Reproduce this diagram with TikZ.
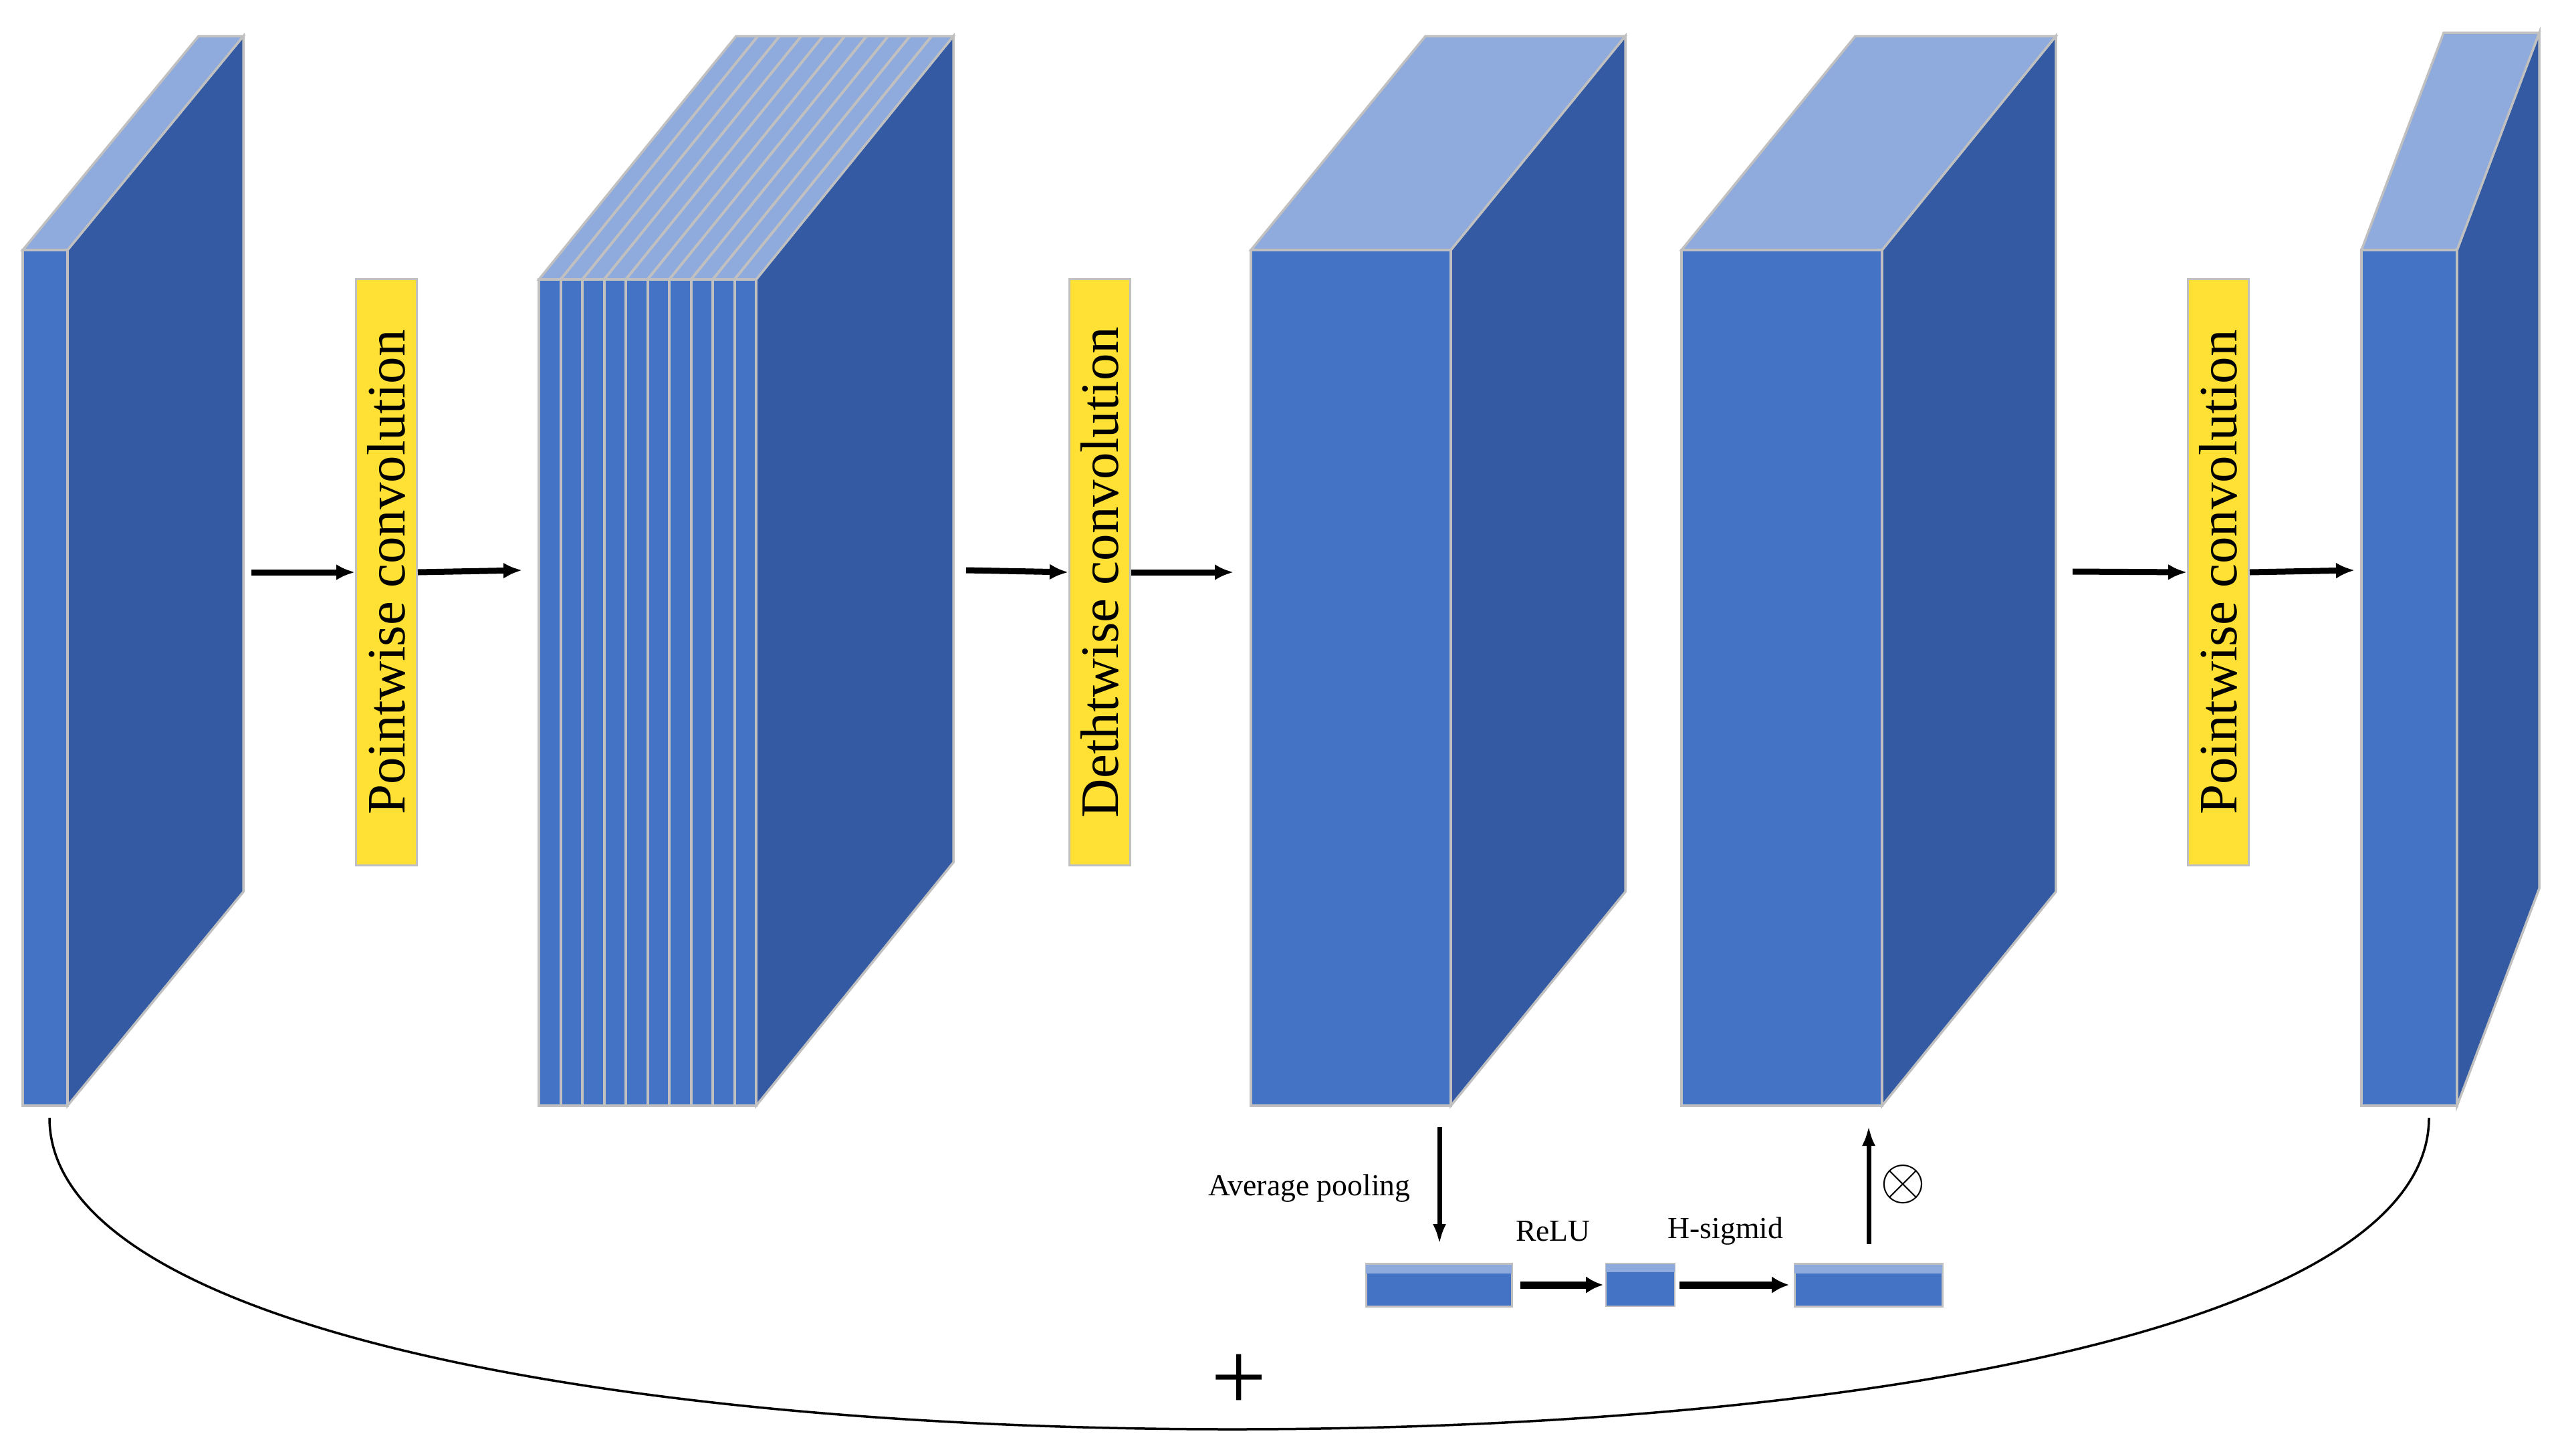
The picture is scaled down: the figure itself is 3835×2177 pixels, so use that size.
\documentclass[tikz,border=0pt]{standalone}
\usepackage{fontspec}
\setmainfont{Liberation Serif}
\usetikzlibrary{arrows.meta}
\definecolor{fr}{HTML}{4472C4}
\definecolor{sd}{HTML}{335AA3}
\definecolor{tp}{HTML}{8FAADC}
\definecolor{ed}{HTML}{C0C0C0}
\definecolor{yl}{HTML}{FFE135}
\newcommand\mycuboid[6]{%
 \fill[sd,draw=ed,line width=0.35mm] (#2,#3) -- ({#2+#5},{#3+#6}) -- ({#2+#5},{#4+#6}) -- (#2,#4) -- cycle;
 \fill[tp,draw=ed,line width=0.35mm] (#1,#3) -- (#2,#3) -- ({#2+#5},{#3+#6}) -- ({#1+#5},{#3+#6}) -- cycle;
 \fill[fr,draw=ed,line width=0.35mm] (#1,#3) rectangle (#2,#4);}
\tikzset{
 lbl/.style={draw=ed,line width=0.3mm,fill=yl,rotate=90,minimum width=87.7mm,minimum height=9.1mm,inner sep=0,font=\fontsize{23}{26}\selectfont},
 arr/.style={-{Latex[length=2.8mm,width=2.4mm]},line width=0.9mm},
 sarr/.style={-{Latex[length=2.6mm,width=2.6mm]},line width=1.1mm},
 varr/.style={line width=0.7mm,-{Latex[length=3mm,width=2mm]}},
 sm/.style={font=\fontsize{13}{15}\selectfont}}
\begin{document}
\begin{tikzpicture}[x=0.1mm,y=-0.1mm]
\useasboundingbox (0,0) rectangle (3835,2177);
\mycuboid{34}{101}{374}{1654}{263}{-320}
% stack
\fill[sd,draw=ed,line width=0.35mm] (1131,418) -- (1426,54) -- (1426,1290) -- (1131,1654) -- cycle;
\fill[tp,draw=ed,line width=0.35mm] (806,418) -- (1131,418) -- (1426,54) -- (1101,54) -- cycle;
\fill[fr,draw=ed,line width=0.35mm] (806,418) rectangle (1131,1654);
\foreach \i in {1,...,9}{
 \draw[ed,line width=0.4mm] ({806+32.5*\i},418) -- ({806+32.5*\i},1654);
 \draw[ed,line width=0.4mm] ({806+32.5*\i},418) -- ({1101+32.5*\i},54);}
\mycuboid{1871}{2170}{374}{1654}{261}{-320}
\mycuboid{2515}{2815}{374}{1654}{260}{-320}
\mycuboid{3532}{3675}{374}{1654}{123}{-325}
% labels
\node[lbl] (p1) at (578,856) {Pointwise convolution};
\node[lbl] (d1) at (1645,856) {Dethtwise convolution};
\node[lbl] (p2) at (3318,856) {Pointwise convolution};
\coordinate (a1) at (376,856); \coordinate (a2) at (781,853);
\coordinate (b1) at (1445,853); \coordinate (b2) at (1845,856);
\coordinate (c1) at (3100,855); \coordinate (c2) at (3522,853);
\draw[arr] (a1) -- (p1.north); \draw[arr] (p1.south) -- (a2);
\draw[arr] (b1) -- (d1.north); \draw[arr] (d1.south) -- (b2);
\draw[arr] (c1) -- (p2.north); \draw[arr] (p2.south) -- (c2);
% SE branch
\coordinate (ap1) at (2153,1686); \coordinate (ap2) at (2153,1861);
\draw[varr] (ap1) -- (ap2);
\node[sm,anchor=east] (avg) at (2122,1778) {Average pooling};
\foreach \n/\xa/\xb in {s1/2043/2261,s3/2684/2905}{
 \fill[fr,draw=ed,line width=0.3mm] (\xa,1890) rectangle (\xb,1954);
 \fill[tp] (\xa,1892) rectangle (\xb,1905);}
\fill[fr,draw=ed,line width=0.2mm] (2402,1890) rectangle (2505,1954);
\fill[tp] (2402,1891) rectangle (2505,1903);
\coordinate (r1) at (2274,1922); \coordinate (r2) at (2398,1922);
\coordinate (h1) at (2512,1922); \coordinate (h2) at (2676,1922);
\draw[sarr] (r1) -- (r2); \draw[sarr] (h1) -- (h2);
\node[sm] (relu) at (2323,1842) {ReLU};
\node[sm] (hs) at (2581,1842) {H-sigmid};
\coordinate (u1) at (2795,1861); \coordinate (u2) at (2795,1684);
\draw[varr] (u1) -- (u2);
\node[font=\fontsize{26}{30}\selectfont,inner sep=0] (ot) at (2846,1772) {$\otimes$};
% residual arc
\coordinate (l) at (74,1672); \coordinate (m) at (1843,2138); \coordinate (r) at (3633,1672);
\draw[line width=0.35mm] (l) .. controls (74,1980) and (900,2138) .. (m) .. controls (2800,2138) and (3633,1980) .. (r);
\node[font=\fontsize{42}{46}\selectfont] (plus) at (1853,2068) {+};
\end{tikzpicture}
\end{document}
